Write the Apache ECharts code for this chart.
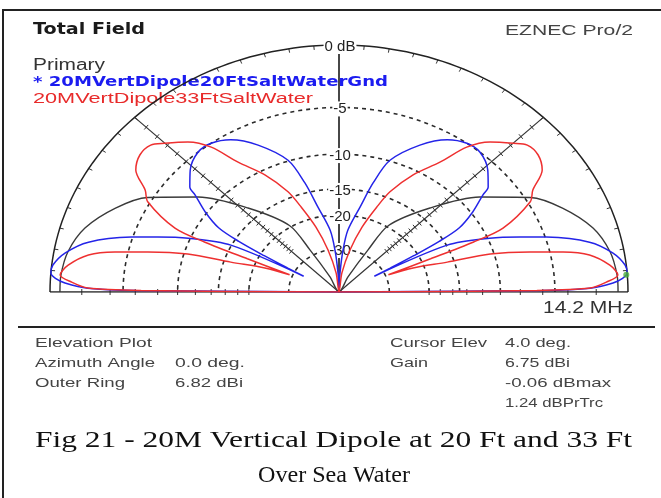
<!DOCTYPE html>
<html><head><meta charset="utf-8">
<script src="https://cdn.jsdelivr.net/npm/echarts@6/dist/echarts.min.js"></script>
<style>html,body{margin:0;padding:0;background:#fff}#c{width:661px;height:498px}</style>
</head><body><div id="c"></div>
<script>
// ---- data (elevation angle in degrees, gain in dB relative to outer ring) ----
const blueElev = [0, 0.5, 1.0, 2.2, 3.2, 4.4, 6.3, 9.5, 13.1, 17.2, 19.6, 22.7, 26.9, 27.6, 28.6, 29.6, 30.6, 32, 35, 38.3, 39.5, 43.8, 49.3, 53.7, 58.7, 64.8, 71.7, 75, 78, 83, 85.3, 87.4, 90];
const blueDb   = [-99, -6, -2.4, -0.9, -0.3, 0, -0.07, -0.7, -2.0, -4.9, -7.0, -9.8, -14.9, -34, -27.5, -20.8, -15.6, -12.2, -9.8, -7.8, -6.9, -5.8, -5.0, -5.0, -5.6, -7.2, -9.9, -13.4, -17.9, -23.6, -30.3, -44, -99];
const redElev  = [0, 0.5, 1.06, 2.5, 4.1, 6.6, 9.8, 11.8, 13.8, 16.4, 17.9, 20.8, 22.2, 23.0, 23.5, 24.5, 28.9, 31.6, 35.1, 38.9, 42.4, 45, 49.3, 53, 56.4, 61.6, 66.5, 69.2, 73.1, 77.4, 82.6, 90];
const redDb    = [-99, -6.5, -2.4, -1.3, -0.57, -1.0, -2.2, -4.0, -6.6, -10.4, -16.0, -22.2, -29, -18.3, -11.7, -8.1, -4.8, -4.1, -2.6, -2.1, -2.15, -2.75, -3.8, -5.3, -7.9, -10.6, -14.0, -17.2, -22.2, -30.0, -43.8, -99];
const blackElev = [0, 4.1, 9.8, 16.4, 23.7, 30, 38.3, 47.2, 57.5, 59.5, 63, 65, 90];
const blackDb   = [-0.6, -0.62, -0.84, -1.5, -2.9, -4.6, -8.2, -13.2, -19.6, -27.9, -46, -99, -99];
const ringDb = [-5, -10, -15, -20, -30];
const ringLabels = ['-5', '-10', '-15', '-20', '-30'];
const outerLabel = '0 dB';
const cursorElev = [4.0];
const cursorDbMax = [-0.06];
const legendNames = ['* 20MVertDipole20FtSaltWaterGnd', '20MVertDipole33FtSaltWater'];
const infoLeft = [['Elevation Plot', ''], ['Azimuth Angle', '0.0 deg.'], ['Outer Ring', '6.82 dBi']];
const infoRight = [['Cursor Elev', '4.0 deg.'], ['Gain', '6.75 dBi'], ['', '-0.06 dBmax'], ['', '1.24 dBPrTrc']];
const captionLines = ['Fig 21 - 20M Vertical Dipole at 20 Ft and 33 Ft', 'Over Sea Water'];

// ---- ARRL log scale ----
function arrl(db) { return db <= -99 ? 0 : Math.pow(0.89, -db / 2); }
function pxy(phi, db) { const r = arrl(db), a = phi * Math.PI / 180; return [r * Math.cos(a), r * Math.sin(a)]; }
function trace(elev, db) {
  const right = elev.map((e, i) => pxy(e, db[i]));
  const left = elev.map((e, i) => pxy(180 - e, db[i])).reverse();
  return right.concat(left);
}
function ring(db) { const d = []; for (let a = 0; a <= 180; a += 1.5) d.push(pxy(a, db)); return d; }

// ticks: kind 0 = inward (outer ring), kind 1 = perpendicular
const ticks = [];
for (let a = 5; a < 180; a += 5) { if (a !== 90) ticks.push(pxy(a, 0).concat([0])); }
for (const phi of [45, 135]) for (let d = -1; d >= -25; d--) ticks.push(pxy(phi, d).concat([1]));
for (const phi of [0, 180]) for (let d = -2; d >= -20; d -= 2) ticks.push(pxy(phi, d).concat([1]));

const labelData = [[0, arrl(0), outerLabel]].concat(ringDb.map((d, i) => [0, arrl(d), ringLabels[i]]));

const measure = document.createElement('canvas').getContext('2d');
function fit(str, x, y, w, font, fill) {
  measure.font = font;
  const nat = measure.measureText(str).width || 1;
  return { type: 'text', x: x, y: y, scaleX: w / nat, silent: true,
    style: { text: str, font: font, fill: fill, align: 'left', verticalAlign: 'middle', textAlign: 'left', textVerticalAlign: 'middle' } };
}

const graphics = [
  { type: 'line', shape: { x1: 2, y1: 10, x2: 661, y2: 10 }, style: { stroke: '#222', lineWidth: 2 } },
  { type: 'line', shape: { x1: 3, y1: 10, x2: 3, y2: 498 }, style: { stroke: '#222', lineWidth: 2 } },
  { type: 'line', shape: { x1: 18, y1: 327, x2: 655, y2: 327 }, style: { stroke: '#222', lineWidth: 2 } },
  fit('Total Field', 33, 30.5, 112, 'bold 15px "DejaVu Sans"', '#1a1a1a'),
  fit('EZNEC Pro/2', 505, 30.5, 128, '15px "Liberation Sans"', '#444'),
  fit('Primary', 33, 66, 72, '16px "Liberation Sans"', '#333'),
  fit(legendNames[0], 33, 82, 355, 'bold 14px "DejaVu Sans"', '#1c1cf0'),
  fit(legendNames[1], 33, 99, 280, '14px "Liberation Sans"', '#e82a2a'),
  fit('14.2 MHz', 543, 308.5, 90, '16px "Liberation Sans"', '#333'),
  fit(infoLeft[0][0], 35, 343, 117, '13px "Liberation Sans"', '#444'),
  fit(infoLeft[1][0], 35, 363, 120, '13px "Liberation Sans"', '#444'),
  fit(infoLeft[1][1], 175, 363, 70, '13px "Liberation Sans"', '#444'),
  fit(infoLeft[2][0], 35, 383, 90, '13px "Liberation Sans"', '#444'),
  fit(infoLeft[2][1], 175, 383, 68, '13px "Liberation Sans"', '#444'),
  fit(infoRight[0][0], 390, 343, 97, '13px "Liberation Sans"', '#444'),
  fit(infoRight[0][1], 505, 343, 66, '13px "Liberation Sans"', '#444'),
  fit(infoRight[1][0], 390, 363, 38, '13px "Liberation Sans"', '#444'),
  fit(infoRight[1][1], 505, 363, 65, '13px "Liberation Sans"', '#444'),
  fit(infoRight[2][1], 505, 383, 106, '13px "Liberation Sans"', '#444'),
  fit(infoRight[3][1], 505, 403, 98, '13px "Liberation Sans"', '#444'),
  fit(captionLines[0], 35, 441, 597, '24px "Liberation Serif"', '#111'),
  fit(captionLines[1], 258, 476, 152, '24px "Liberation Serif"', '#111')
];

const chart = echarts.init(document.getElementById('c'), null, { renderer: 'canvas' });
const lineBase = { type: 'line', showSymbol: false, symbol: 'none', silent: true, animation: false };
const series = [];
ringDb.forEach(d => series.push(Object.assign({}, lineBase, { data: ring(d), z: 1,
  lineStyle: { color: '#2a2a2a', width: 1.6, type: [4, 4] } })));
series.push(Object.assign({}, lineBase, { data: ring(0), z: 1, lineStyle: { color: '#222', width: 1.5 } }));
series.push(Object.assign({}, lineBase, { data: [[-1, 0], [1, 0]], z: 1, lineStyle: { color: '#222', width: 1.5 } }));
[45, 90, 135].forEach(a => series.push(Object.assign({}, lineBase, { data: [[0, 0], pxy(a, 0)], z: 1,
  lineStyle: { color: '#333', width: a === 90 ? 1.8 : 1.2 } })));
series.push({ type: 'custom', silent: true, animation: false, z: 1, data: ticks,
  renderItem: function (params, api) {
    const p = api.coord([api.value(0), api.value(1)]);
    const c = api.coord([0, 0]);
    let dx = c[0] - p[0], dy = c[1] - p[1];
    const L = Math.hypot(dx, dy) || 1; dx /= L; dy /= L;
    let s;
    if (api.value(2) === 0) s = { x1: p[0], y1: p[1], x2: p[0] + dx * 4, y2: p[1] + dy * 4 };
    else s = { x1: p[0] - dy * 3, y1: p[1] + dx * 3, x2: p[0] + dy * 3, y2: p[1] - dx * 3 };
    return { type: 'line', shape: s, style: { stroke: '#333', lineWidth: 1 } };
  } });
series.push({ type: 'custom', silent: true, animation: false, z: 2, data: labelData,
  renderItem: function (params, api) {
    const p = api.coord([api.value(0), api.value(1)]);
    const t = labelData[params.dataIndex][2];
    return { type: 'text', x: p[0] + 1, y: p[1] + 1.5,
      style: { text: t, font: '15px "Liberation Sans"', fill: '#222', align: 'center', verticalAlign: 'middle',
        textAlign: 'center', textVerticalAlign: 'middle', backgroundColor: '#fff', padding: [0, 1] } };
  } });
series.push(Object.assign({}, lineBase, { data: trace(blackElev, blackDb), z: 3, smooth: 0.3,
  lineStyle: { color: '#3a3a3a', width: 1.4 } }));
series.push(Object.assign({}, lineBase, { data: trace(blueElev, blueDb), z: 4, smooth: 0.3,
  lineStyle: { color: '#2424e8', width: 1.5 } }));
series.push(Object.assign({}, lineBase, { data: trace(redElev, redDb), z: 5, smooth: 0.3,
  lineStyle: { color: '#ee3030', width: 1.5 } }));
series.push({ type: 'scatter', silent: true, animation: false, z: 7, symbolSize: 6,
  data: cursorElev.map((e, i) => pxy(e, cursorDbMax[i])), itemStyle: { color: '#4caf3c' } });

chart.setOption({
  animation: false,
  grid: { left: 50, top: 45, width: 578, height: 247 },
  xAxis: { type: 'value', min: -1, max: 1, show: false },
  yAxis: { type: 'value', min: 0, max: 1, show: false },
  graphic: graphics,
  series: series
});
</script></body></html>
